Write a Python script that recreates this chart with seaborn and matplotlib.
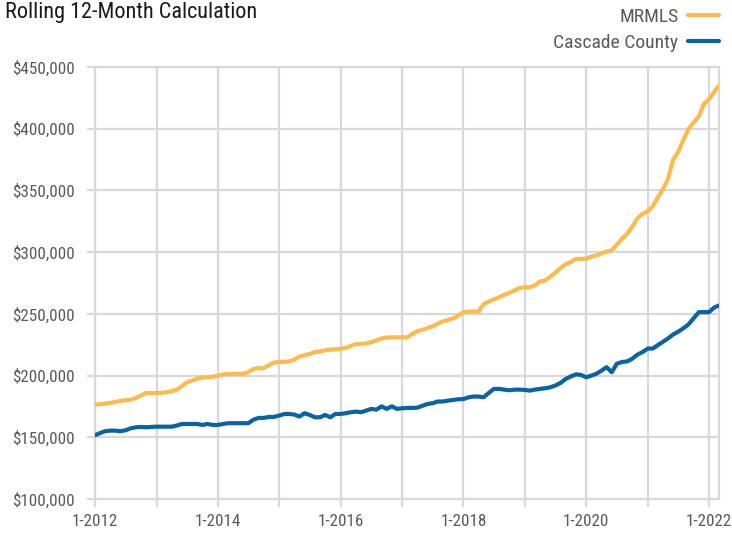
import matplotlib
matplotlib.use("Agg")
import matplotlib.pyplot as plt
import matplotlib.font_manager as fm
import seaborn as sns
import pandas as pd
import numpy as np

# ---- data (monthly rolling 12-month values, in $1000s), Jan 2012 .. Mar 2022 ----
start_month = "2012-01-01"
mrmls_values = [
    176.5, 176.8, 177.3, 177.8, 178.6, 179.5, 180.0, 180.5, 181.9, 183.8, 185.9, 185.9,   # 2012
    186.0, 186.0, 186.5, 187.3, 188.6, 191.4, 194.6, 196.0, 197.5, 198.5, 198.6, 199.0,   # 2013
    200.0, 201.0, 201.2, 201.4, 201.4, 201.5, 202.7, 205.5, 206.0, 206.0, 208.5, 210.5,   # 2014
    211.0, 211.2, 211.4, 213.0, 215.5, 216.5, 217.5, 219.0, 219.5, 220.5, 221.0, 221.3,   # 2015
    221.6, 222.5, 224.0, 225.5, 225.7, 226.0, 227.0, 228.5, 230.0, 230.8, 231.0, 231.0,   # 2016
    231.0, 231.0, 233.5, 236.0, 237.0, 238.5, 240.0, 242.0, 244.0, 245.0, 246.5, 248.5,   # 2017
    251.4, 251.9, 251.9, 252.0, 258.0, 260.0, 261.8, 263.5, 265.5, 267.0, 269.0, 271.0,   # 2018
    271.5, 271.6, 273.0, 276.3, 277.0, 280.0, 283.3, 287.0, 290.2, 292.0, 294.5, 294.6,   # 2019
    294.6, 296.5, 297.2, 299.0, 300.5, 301.4, 306.0, 311.0, 315.0, 320.5, 327.5, 331.0,   # 2020
    333.0, 337.5, 344.0, 351.0, 359.0, 375.0, 381.0, 391.0, 400.0, 405.0, 410.0, 420.0,   # 2021
    424.0, 430.0, 435.0,                                                                  # 2022
]
cascade_values = [
    151.6, 153.5, 154.9, 155.4, 155.4, 154.9, 155.7, 157.3, 158.1, 158.4, 158.1, 158.4,   # 2012
    158.6, 158.6, 158.6, 158.6, 159.5, 160.8, 160.8, 160.8, 160.8, 160.0, 160.8, 160.0,   # 2013
    160.0, 160.8, 161.4, 161.4, 161.4, 161.4, 161.4, 164.3, 165.7, 165.7, 166.5, 166.5,   # 2014
    167.6, 168.9, 168.9, 168.4, 166.8, 169.5, 168.1, 166.2, 166.2, 168.1, 166.2, 168.9,   # 2015
    168.9, 169.5, 170.3, 170.8, 170.3, 171.6, 173.0, 172.4, 175.1, 173.0, 175.1, 173.0,   # 2016
    173.5, 173.8, 173.8, 174.0, 175.5, 177.0, 177.6, 179.0, 179.0, 179.7, 180.3, 180.8,   # 2017
    181.0, 182.4, 183.0, 183.0, 182.4, 186.0, 189.2, 189.2, 188.6, 188.1, 188.6, 188.6,   # 2018
    188.4, 187.8, 188.6, 189.2, 189.7, 190.5, 191.9, 194.0, 197.3, 199.2, 201.0, 200.5,   # 2019
    198.6, 200.0, 201.4, 204.0, 206.8, 202.7, 209.6, 211.0, 211.5, 213.7, 217.0, 219.0,   # 2020
    221.9, 221.9, 224.6, 227.3, 230.0, 233.3, 235.5, 238.3, 241.5, 246.4, 251.4, 251.4,   # 2021
    251.4, 255.2, 256.8,                                                                  # 2022
]
series_names = ["MRMLS", "Cascade County"]
series_colors = ["#FDBA4D", "#0A64A3"]
y_ticks = [100000, 150000, 200000, 250000, 300000, 350000, 400000, 450000]
tick_years = list(range(2012, 2023))
title_text = "Rolling 12-Month Calculation"

# ---- fonts: prefer a condensed sans, like the reference ----
sns.set_theme(style="white")
ttf = fm.fontManager.ttflist
names = {f.name for f in ttf}
family = None
stretch = "normal"
scale = 1.0
for cand in ["Liberation Sans Narrow", "Roboto Condensed", "Open Sans Condensed",
             "Noto Sans Condensed", "Arial Narrow"]:
    if cand in names:
        family = cand
        break
if family is None:
    others = [f.name for f in ttf if ("Narrow" in f.name or "Condensed" in f.name)]
    if others:
        family = sorted(others)[0]
if family is None:
    cond = [f for f in ttf if f.stretch in ("condensed", "semi-condensed") and "Sans" in f.name
            and "Mono" not in f.name]
    if cond:
        family = cond[0].name
        stretch = cond[0].stretch
if family is None:
    family = "Liberation Sans"
    scale = 0.9
plt.rcParams["font.family"] = [family, "DejaVu Sans"]
plt.rcParams["font.stretch"] = stretch

dates = pd.date_range(start_month, periods=len(mrmls_values), freq="MS")
df = pd.concat([
    pd.DataFrame({"date": dates, "value": np.array(mrmls_values) * 1000, "series": series_names[0]}),
    pd.DataFrame({"date": dates, "value": np.array(cascade_values) * 1000, "series": series_names[1]}),
])

fig = plt.figure(figsize=(7.32, 5.33), dpi=100)
ax = fig.add_axes([95 / 732, 1 - 499 / 533, (719 - 95) / 732, (499 - 67) / 533])

grid_color = "#d9d9d9"
sns.lineplot(data=df, x="date", y="value", hue="series", palette=series_colors,
             hue_order=series_names, linewidth=3.0, ax=ax, legend=False, zorder=3)

ax.set_xlim(dates[0], dates[-1])
ax.set_ylim(100000, 450000)
ax.set_yticks(y_ticks)
ax.set_yticklabels([f"${v:,.0f}" for v in y_ticks])
tick_dates = [pd.Timestamp(f"{y}-01-01") for y in tick_years]
ax.set_xticks(tick_dates)
ax.set_xticklabels([f"1-{y}" if y % 2 == 0 else "" for y in tick_years])
ax.set_xlabel("")
ax.set_ylabel("")

ax.grid(True, color=grid_color, linewidth=1.6, zorder=0)
for s in ax.spines.values():
    s.set_color(grid_color)
    s.set_linewidth(1.6)
ax.tick_params(axis="both", which="both", length=5.5, width=1.6, color=grid_color,
               labelcolor="#5a5a5a", labelsize=12.3 * scale)
ax.tick_params(axis="y", pad=9, left=True)
ax.tick_params(axis="x", pad=5, bottom=True)

fig.text(5 / 732, 1 - 2 / 533, title_text, ha="left", va="top", fontsize=16.0 * scale,
         color="#1a1a1a")

handles = [plt.Line2D([], [], color=c, linewidth=3.0) for c in series_colors]
leg = fig.legend(handles, series_names, loc="upper right", bbox_to_anchor=(719 / 732, 1 - 8 / 533),
                 bbox_transform=fig.transFigure, frameon=False, markerfirst=False,
                 fontsize=14.0 * scale, handlelength=1.6, handletextpad=0.5, labelspacing=0.42,
                 borderpad=0, borderaxespad=0)
for t in leg.get_texts():
    t.set_color("#5a5a5a")

fig.savefig("out.png", dpi=100)
